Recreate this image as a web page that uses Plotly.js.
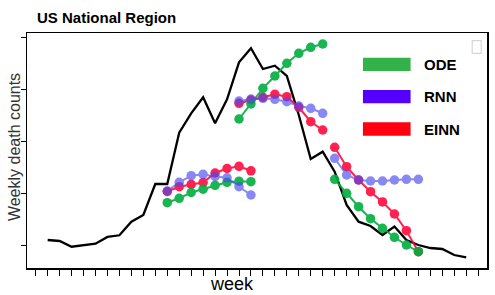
<!DOCTYPE html>
<html>
<head>
<meta charset="utf-8">
<script src="https://cdn.plot.ly/plotly-3.0.1.min.js"></script>
<style>html,body{margin:0;padding:0;background:#fff;}#chart{width:495px;height:295px;}</style>
</head>
<body>
<div id="chart"></div>
<script>
// ---- data ----
var weeks = [1,2,3,4,5,6,7,8,9,10,11,12,13,14,15,16,17,18,19,20,21,22,23,24,25,26,27,28,29,30,31,32,33,34,35,36];
var observed = [2230,2192,1973,2038,2088,2346,2411,2933,3190,4381,4381,6351,7096,7710,6712,7633,9054,9592,8797,8924,8528,7030,5341,5621,4853,3574,2933,2768,2422,2749,2230,2038,1923,1885,1654,1566];

var weeksW1 = [11,12,13,14,15,16,17,18];
var weeksW2 = [17,18,19,20,21,22,23,24];
var weeksW3 = [25,26,27,28,29,30,31,32];

var odeW1  = [3663,3832,4054,4181,4331,4446,4488,4469];
var rnnW1  = [4112,4446,4700,4753,4669,4620,4277,3958];
var einnW1 = [4093,4277,4362,4438,4803,4976,5060,4888];

var odeW2  = [6877,7453,8056,8528,9016,9400,9630,9757];
var rnnW2  = [7568,7645,7672,7633,7541,7376,7288,7096];
var einnW2 = [7480,7606,7710,7825,7733,7326,6773,6454];

var odeW3  = [4561,4024,3509,3048,2680,2334,2038,1781];
var rnnW3  = [5368,4726,4534,4496,4496,4534,4561,4561];
var einnW3 = [5790,5045,4534,4085,3690,3229,2588,1781];

var seriesNames = ['ODE','RNN','EINN'];
var yTickVals = [2000,4000,6000,8000,10000];

// ---- styles ----
var C = {ODE:'#00ad3f', RNN:'#4a4af0', EINN:'#ff0a3c'};
var OP = {ODE:0.9, RNN:0.65, EINN:0.9};
var legendColors = {ODE:'#34b24a', RNN:'#5500ff', EINN:'#ff0010'};

function fc(x, y, name) {
  return {x:x, y:y, type:'scatter', mode:'lines+markers', name:name, showlegend:false,
    opacity:OP[name], line:{color:C[name], width:2}, marker:{color:C[name], size:9.5}, hoverinfo:'x+y+name'};
}

var traces = [
  {x:weeks, y:observed, type:'scatter', mode:'lines', name:'Observed', showlegend:false,
   line:{color:'#000', width:2.3}},
  fc(weeksW1, einnW1, 'EINN'), fc(weeksW2, einnW2, 'EINN'), fc(weeksW3, einnW3, 'EINN'),
  fc(weeksW1, odeW1, 'ODE'),   fc(weeksW2, odeW2, 'ODE'),   fc(weeksW3, odeW3, 'ODE'),
  fc(weeksW1, rnnW1, 'RNN'),   fc(weeksW2, rnnW2, 'RNN'),   fc(weeksW3, rnnW3, 'RNN')
];

// pixel helpers for the custom legend (plot area: x 27..487.5, y 33..268)
var L = 27, R = 487.5, T = 33, B = 268;
function px(x){ return (x - L) / (R - L); }
function py(y){ return (B - y) / (B - T); }

var shapes = [];
var annotations = [];
var legendRows = [[57.7,71],[90,103.3],[122.3,135.7]];
seriesNames.forEach(function(n, i){
  var r = legendRows[i];
  shapes.push({type:'rect', xref:'paper', yref:'paper', x0:px(363.3), x1:px(411), y0:py(r[1]), y1:py(r[0]),
    fillcolor:legendColors[n], line:{width:0}});
  annotations.push({xref:'paper', yref:'paper', x:px(422), y:py((r[0]+r[1])/2), xanchor:'left', yanchor:'middle',
    text:'<b>'+n+'</b>', showarrow:false, font:{family:'Liberation Sans, Arial, sans-serif', size:15, color:'#000'}});
});
// small empty box at top-right
shapes.push({type:'rect', xref:'paper', yref:'paper', x0:px(472.7), x1:px(481.7), y0:py(53.3), y1:py(40.7),
  line:{color:'#d6d6d6', width:1.2}, fillcolor:'rgba(0,0,0,0)'});
// x-axis title
annotations.push({xref:'paper', yref:'paper', x:px(232.6), y:py(284), xanchor:'center', yanchor:'middle',
  text:'week', showarrow:false, font:{family:'Liberation Sans, Arial, sans-serif', size:18, color:'#000'}});
// y-axis title
annotations.push({xref:'paper', yref:'paper', x:px(14.6), y:py(147.5), xanchor:'center', yanchor:'middle',
  textangle:-90, text:'Weekly death counts', showarrow:false,
  font:{family:'Liberation Sans, Arial, sans-serif', size:16, color:'#333'}});

var layout = {
  width:495, height:295,
  margin:{l:L, r:495-R, t:T, b:295-B, pad:0},
  paper_bgcolor:'#fff', plot_bgcolor:'#fff',
  showlegend:false,
  title:{text:'US National Region', x:37/495, xanchor:'left', xref:'container', y:1-17.5/295, yanchor:'middle', yref:'container',
    font:{family:'Liberation Sans, Arial, sans-serif', size:15, color:'#000', weight:'bold'}},
  xaxis:{range:[-0.729, 37.74], tickmode:'linear', tick0:1, dtick:1, showticklabels:false,
    ticks:'outside', ticklen:6, tickwidth:1, tickcolor:'#000',
    showgrid:false, zeroline:false, showline:true, linecolor:'#000', linewidth:1.5, mirror:true},
  yaxis:{range:[1155, 10179], tickmode:'array', tickvals:yTickVals, showticklabels:false,
    ticks:'outside', ticklen:5, tickwidth:1, tickcolor:'#000',
    showgrid:false, zeroline:false, showline:true, linecolor:'#000', linewidth:1.5, mirror:true},
  shapes:shapes, annotations:annotations
};

Plotly.newPlot('chart', traces, layout, {displayModeBar:false, staticPlot:true});
</script>
</body>
</html>
